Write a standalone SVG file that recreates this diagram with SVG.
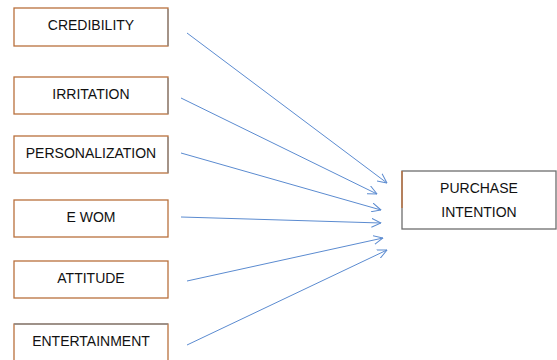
<svg xmlns="http://www.w3.org/2000/svg" width="557" height="360" viewBox="0 0 557 360">
  <style>
    .box { fill: #ffffff; stroke: #b9703c; stroke-width: 1.3; }
    .shade { stroke: #8c8c8c; stroke-width: 1.3; fill: none; }
    .label { font-family: "Liberation Sans", Arial, sans-serif; font-size: 14px; fill: #111111; text-anchor: middle; }
    .link { stroke: #5b8bd0; stroke-width: 1; fill: none; marker-end: url(#open); }
  </style>
  <defs>
    <marker id="open" viewBox="0 0 10 10" refX="9.5" refY="5" markerWidth="10" markerHeight="10" markerUnits="userSpaceOnUse" orient="auto">
      <path d="M0,0.5 L9.5,5 L0,9.5" fill="none" stroke="#5b8bd0" stroke-width="1"/>
    </marker>
  </defs>
  <rect width="557" height="360" fill="#ffffff"/>

  <g id="credibility">
    <rect class="box" x="14" y="8" width="154" height="38"/>
    <line class="shade" x1="168" y1="9" x2="168" y2="46"/>
    <text class="label" x="91" y="30">CREDIBILITY</text>
  </g>
  <g id="irritation">
    <rect class="box" x="14" y="77" width="154" height="37"/>
    <line class="shade" x1="168" y1="78" x2="168" y2="114"/>
    <text class="label" x="91" y="99">IRRITATION</text>
  </g>
  <g id="personalization">
    <rect class="box" x="14" y="136" width="154" height="37"/>
    <line class="shade" x1="168" y1="137" x2="168" y2="173"/>
    <text class="label" x="91" y="158">PERSONALIZATION</text>
  </g>
  <g id="ewom">
    <rect class="box" x="14" y="200" width="154" height="37"/>
    <text class="label" x="91" y="222">E WOM</text>
  </g>
  <g id="attitude">
    <rect class="box" x="14" y="261" width="154" height="37"/>
    <text class="label" x="91" y="283">ATTITUDE</text>
  </g>
  <g id="entertainment">
    <rect class="box" x="14" y="324" width="154" height="40"/>
    <line class="shade" x1="14" y1="324" x2="168" y2="324"/>
    <text class="label" x="91" y="346">ENTERTAINMENT</text>
  </g>
  <g id="purchase-intention">
    <rect x="402" y="171" width="154" height="58" fill="#ffffff" stroke="#6e6e6e" stroke-width="1.3"/>
    <line x1="402" y1="171" x2="402" y2="208" stroke="#c0703a" stroke-width="1.3"/>
    <text class="label" x="479" y="193">PURCHASE</text>
    <text class="label" x="479" y="217">INTENTION</text>
  </g>

  <g id="connectors">
    <line class="link" x1="187" y1="33" x2="387" y2="183"/>
    <line class="link" x1="181" y1="98" x2="377" y2="194"/>
    <line class="link" x1="181" y1="153" x2="381" y2="210"/>
    <line class="link" x1="181" y1="217" x2="381" y2="223"/>
    <line class="link" x1="187" y1="281" x2="383" y2="238"/>
    <line class="link" x1="187" y1="345" x2="387" y2="250"/>
  </g>
</svg>
